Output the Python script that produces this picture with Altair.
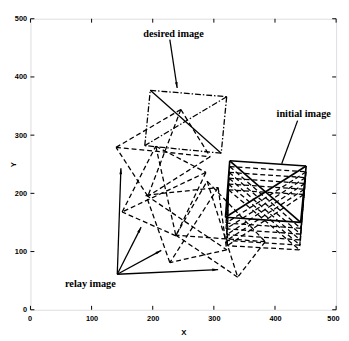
import math
import altair as alt
import pandas as pd

# ---------------- data ----------------
ticks = [0, 100, 200, 300, 400, 500]

desired_image = [(196, 377), (321, 366), (312, 269), (187, 282)]
initial_image = [(326, 256), (451, 247), (442, 150), (319, 159)]

# initial image sliding down (dashed copies)
stack_images = [
    [(326, 246), (451, 237), (442, 140), (320, 149)],
    [(325, 236), (450, 227), (442, 130), (320, 139)],
    [(325, 226), (449, 217), (441, 120), (321, 129)],
    [(324, 216), (448, 207), (441, 111), (321, 119)],
    [(324, 206), (447, 198), (440, 103), (322, 110)],
]

# intermediate (rotating) images, dashed
middle_images = [
    [(189, 197), (307, 210), (321, 103), (228, 81)],
    [(140, 279), (246, 344), (294, 263), (192, 195)],
    [(205, 281), (287, 236), (238, 127), (150, 168)],
    [(289, 221), (384, 117), (339, 56), (238, 128)],
]

relay_origin = (142, 61)
relay_tips = [(148, 243), (181, 142), (214, 102), (307, 69)]

labels = ["desired image", "initial image", "relay image"]
label_x = [234, 447, 98]
label_y = [473, 336, 44]

pointer_from = [(228, 464), (437, 325)]
pointer_to = [(240, 381), (411, 251)]
pointer_head = [True, False]

# ---------------- build segment tables ----------------
W, H = 313, 298
SX, SY = W / 500, H / 500


def quad_segments(q, kind):
    rows = []
    edges = [(0, 1), (1, 2), (2, 3), (3, 0)]
    for a, b in edges:
        rows.append(dict(x=q[a][0], y=q[a][1], x2=q[b][0], y2=q[b][1], kind=kind))
    rows.append(dict(x=q[0][0], y=q[0][1], x2=q[2][0], y2=q[2][1], kind=kind + "_d1"))
    rows.append(dict(x=q[1][0], y=q[1][1], x2=q[3][0], y2=q[3][1], kind=kind + "_d2"))
    return rows


dashed_rows = []
for q in stack_images + middle_images:
    dashed_rows += quad_segments(q, "dash")
dashed_df = pd.DataFrame(dashed_rows)

des = pd.DataFrame(quad_segments(desired_image, "des"))
des_dashdot = des[des["kind"] != "des_d1"]
des_solid = des[des["kind"] == "des_d1"]

init_df = pd.DataFrame(quad_segments(initial_image, "init"))

arrow_rows = []
for t in relay_tips:
    arrow_rows.append(dict(x=relay_origin[0], y=relay_origin[1], x2=t[0], y2=t[1], head=True))
for f, t, h in zip(pointer_from, pointer_to, pointer_head):
    arrow_rows.append(dict(x=f[0], y=f[1], x2=t[0], y2=t[1], head=h))
arrow_df = pd.DataFrame(arrow_rows)


def ang(r):
    dx = (r["x2"] - r["x"]) * SX
    dy = (r["y2"] - r["y"]) * SY
    return math.degrees(math.atan2(dx, dy)) % 360


heads = arrow_df[arrow_df["head"]].copy()
heads["angle"] = heads.apply(ang, axis=1)

label_df = pd.DataFrame(dict(label=labels, x=label_x, y=label_y))

tick_df = pd.DataFrame(dict(t=ticks))

# ---------------- chart ----------------
xs = alt.Scale(domain=[0, 500], nice=False, zero=False)
ys = alt.Scale(domain=[0, 500], nice=False, zero=False)

X = alt.X("x:Q", scale=xs, axis=alt.Axis(values=ticks, title="X", grid=False, ticks=False,
                                          domain=False, labelFont="Liberation Sans",
                                          labelFontSize=7.5, labelFontWeight="bold",
                                          labelPadding=5, titleFont="Liberation Sans",
                                          titleFontSize=8, titleFontWeight="bold",
                                          titlePadding=7, labelFlush=True,
                                          labelFlushOffset=3,
                                          labelColor="black", titleColor="black"))
Y = alt.Y("y:Q", scale=ys, axis=alt.Axis(values=ticks, title="Y", grid=False, ticks=False,
                                          domain=False, labelFont="Liberation Sans",
                                          labelFontSize=7.5, labelFontWeight="bold",
                                          labelPadding=4, titleFont="Liberation Sans",
                                          titleFontSize=8, titleFontWeight="bold",
                                          titleX=-13, labelFlush=False,
                                          labelColor="black", titleColor="black"))

dashed = alt.Chart(dashed_df).mark_rule(color="black", strokeWidth=1.3, strokeDash=[5, 3]).encode(
    x=X, y=Y, x2="x2:Q", y2="y2:Q")

des_dd = alt.Chart(des_dashdot).mark_rule(color="black", strokeWidth=1.3,
                                          strokeDash=[6, 2, 1.5, 2]).encode(
    x="x:Q", y="y:Q", x2="x2:Q", y2="y2:Q")
des_s = alt.Chart(des_solid).mark_rule(color="black", strokeWidth=1.3).encode(
    x="x:Q", y="y:Q", x2="x2:Q", y2="y2:Q")

init = alt.Chart(init_df).mark_rule(color="black", strokeWidth=1.7).encode(
    x="x:Q", y="y:Q", x2="x2:Q", y2="y2:Q")

arrows = alt.Chart(arrow_df).mark_rule(color="black", strokeWidth=1.3).encode(
    x="x:Q", y="y:Q", x2="x2:Q", y2="y2:Q")

arrowheads = alt.Chart(heads).mark_point(
    shape="M0,0L-0.5,2.2L0.5,2.2Z", filled=True, color="black", opacity=1, size=30).encode(
    x="x2:Q", y="y2:Q", angle=alt.Angle("angle:Q", scale=None))

text = alt.Chart(label_df).mark_text(font="Liberation Serif", fontSize=10.5, fontWeight="bold",
                                     color="black").encode(
    x="x:Q", y="y:Q", text="label:N")

tick_len = 4
bt = alt.Chart(tick_df).mark_rule(color="black", strokeWidth=1).encode(
    x="t:Q", y=alt.value(H), y2=alt.value(H - tick_len))
tt = alt.Chart(tick_df).mark_rule(color="black", strokeWidth=1).encode(
    x="t:Q", y=alt.value(0), y2=alt.value(tick_len))
lt = alt.Chart(tick_df).mark_rule(color="black", strokeWidth=1).encode(
    y="t:Q", x=alt.value(0), x2=alt.value(tick_len))
rt = alt.Chart(tick_df).mark_rule(color="black", strokeWidth=1).encode(
    y="t:Q", x=alt.value(W), x2=alt.value(W - tick_len))

chart = alt.layer(dashed, des_dd, des_s, init, arrows, arrowheads, text, bt, tt, lt, rt).properties(
    width=W, height=H,
    autosize=alt.AutoSizeParams(type="none"),
    padding={"left": 23, "top": 7, "right": 5, "bottom": 28},
).configure_view(stroke="black", strokeWidth=1.5).configure(background="white")

chart.save("out.html", embed_options={"renderer": "svg", "actions": False})
